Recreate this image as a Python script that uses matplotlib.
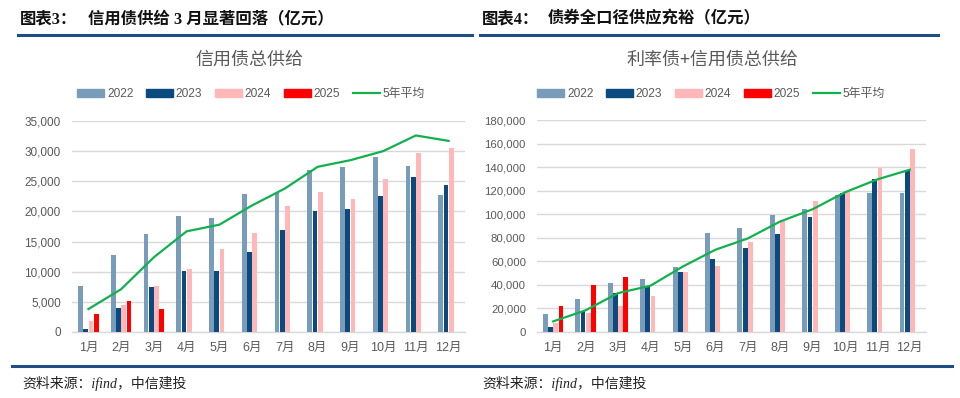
import matplotlib
matplotlib.use("Agg")
import matplotlib.pyplot as plt
import numpy as np
from matplotlib.patches import Patch
from matplotlib.lines import Line2D
from matplotlib.ticker import FuncFormatter, MultipleLocator

plt.rcParams['font.family'] = ['Liberation Sans', 'Noto Sans CJK SC', 'DejaVu Sans']

months = ['1月', '2月', '3月', '4月', '5月', '6月', '7月', '8月', '9月', '10月', '11月', '12月']
series_names = ['2022', '2023', '2024', '2025']
avg_name = '5年平均'

# Left chart: 信用债总供给 (亿元)
credit_2022 = [7700, 12700, 16200, 19300, 18900, 22850, 23300, 26900, 27400, 29000, 27600, 22800]
credit_2023 = [500, 4000, 7500, 10200, 10200, 13200, 16850, 20150, 20400, 22500, 25700, 24400]
credit_2024 = [1900, 4500, 7700, 10400, 13700, 16500, 20900, 23300, 22100, 25300, 29700, 30500]
credit_2025 = [3000, 5100, 3850, np.nan, np.nan, np.nan, np.nan, np.nan, np.nan, np.nan, np.nan, np.nan]
credit_avg = [3800, 7100, 12400, 16700, 17800, 21000, 23800, 27400, 28500, 30000, 32600, 31700]

# Right chart: 利率债+信用债总供给 (亿元)
total_2022 = [15500, 28200, 41200, 44600, 55400, 83900, 87900, 99400, 104800, 116400, 117600, 117700]
total_2023 = [4000, 18000, 33000, 38000, 50800, 62400, 71700, 83300, 97700, 118000, 129600, 137500]
total_2024 = [8000, 16000, 22500, 30500, 50800, 56200, 76800, 95200, 111300, 119000, 139500, 155300]
total_2025 = [21800, 39800, 46600, np.nan, np.nan, np.nan, np.nan, np.nan, np.nan, np.nan, np.nan, np.nan]
total_avg = [9000, 18400, 33000, 39300, 55600, 69800, 79400, 93800, 104200, 118600, 129600, 137800]

colors = ['#7A9CBB', '#0B4A7E', '#FFB7B7', '#FF0000']
line_color = '#12B04E'
grid_color = '#D9D9D9'
text_gray = '#595959'
rule_color = '#1F4E84'

W, H = 960, 398
fig = plt.figure(figsize=(W / 100, H / 100), dpi=100)


def fx(px):
    return px / W


def fy(py):
    return 1 - py / H


def draw_panel(rect, data, avg, ymax, ystep, yfs):
    ax = fig.add_axes(rect)
    x = np.arange(len(months))
    step = 0.16
    width = 0.15
    for i, (vals, c) in enumerate(zip(data, colors)):
        ax.bar(x + (i - 1.5) * step, vals, width=width, color=c, zorder=3)
    ax.plot(x, avg, color=line_color, lw=1.6, zorder=4)
    ax.set_xlim(-0.5, 11.5)
    ax.set_ylim(0, ymax)
    ax.yaxis.set_major_locator(MultipleLocator(ystep))
    ax.yaxis.set_major_formatter(FuncFormatter(lambda v, p: f'{int(v):,}'))
    ax.set_xticks(x)
    ax.set_xticklabels(months)
    ax.grid(axis='y', color=grid_color, lw=1.0, zorder=0)
    for s in ['top', 'right', 'left']:
        ax.spines[s].set_visible(False)
    ax.spines['bottom'].set_color(grid_color)
    ax.spines['bottom'].set_linewidth(1.0)
    ax.tick_params(axis='both', length=0, colors=text_gray)
    ax.tick_params(axis='y', pad=8, labelsize=yfs)
    ax.tick_params(axis='x', pad=7, labelsize=9)
    return ax


# Left panel
axL = draw_panel([fx(72), fy(332), fx(465) - fx(72), fy(121) - fy(332)],
                 [credit_2022, credit_2023, credit_2024, credit_2025], credit_avg, 35000, 5000, 8.5)
# Right panel
axR = draw_panel([fx(537), fy(332), fx(926) - fx(537), fy(120) - fy(332)],
                 [total_2022, total_2023, total_2024, total_2025], total_avg, 180000, 20000, 8.2)

handles = [Patch(color=c) for c in colors] + [Line2D([0], [0], color=line_color, lw=1.6)]
labels = series_names + [avg_name]
for cx in (251, 711):
    fig.legend(handles, labels, loc='center', bbox_to_anchor=(fx(cx), fy(94)),
               bbox_transform=fig.transFigure, ncol=5, frameon=False, fontsize=8.6,
               handlelength=2.25, handleheight=0.7, handletextpad=0.25, columnspacing=1.05,
               labelcolor=text_gray)

# Subtitles
fig.text(fx(249), fy(60), '信用债总供给', ha='center', va='center', fontsize=13,
         color=text_gray, family=['Noto Sans CJK SC'])
fig.text(fx(712), fy(60), '利率债+信用债总供给', ha='center', va='center', fontsize=13,
         color=text_gray, family=['Noto Sans CJK SC'])

# Titles
tfam = ['Liberation Serif', 'Noto Sans CJK SC']
fig.text(fx(20), fy(19), '图表3：', ha='left', va='center', fontsize=11.8, weight='bold',
         family=tfam, color='#111111')
fig.text(fx(88), fy(19), '信用债供给 3 月显著回落（亿元）', ha='left', va='center', fontsize=11.8,
         weight='bold', family=tfam, color='#111111')
fig.text(fx(482), fy(19), '图表4：', ha='left', va='center', fontsize=11.8, weight='bold',
         family=tfam, color='#111111')
fig.text(fx(548), fy(19), '债券全口径供应充裕（亿元）', ha='left', va='center', fontsize=11.8,
         weight='bold', family=tfam, color='#111111')

# Rules
fig.add_artist(Line2D([fx(18), fx(472)], [fy(35), fy(35)], color=rule_color, lw=2.2,
                      transform=fig.transFigure))
fig.add_artist(Line2D([fx(480), fx(938)], [fy(35), fy(35)], color=rule_color, lw=2.2,
                      transform=fig.transFigure))
fig.add_artist(Line2D([fx(12), fx(952)], [fy(366), fy(366)], color=rule_color, lw=2.2,
                      transform=fig.transFigure))

# Footers
fig.text(fx(22), fy(383), '资料来源：ifind，中信建投', ha='left', va='center', fontsize=10,
         style='italic', family=tfam, color='#222222')
fig.text(fx(482), fy(383), '资料来源：ifind，中信建投', ha='left', va='center', fontsize=10,
         style='italic', family=tfam, color='#222222')

fig.savefig('out.png', dpi=100)
